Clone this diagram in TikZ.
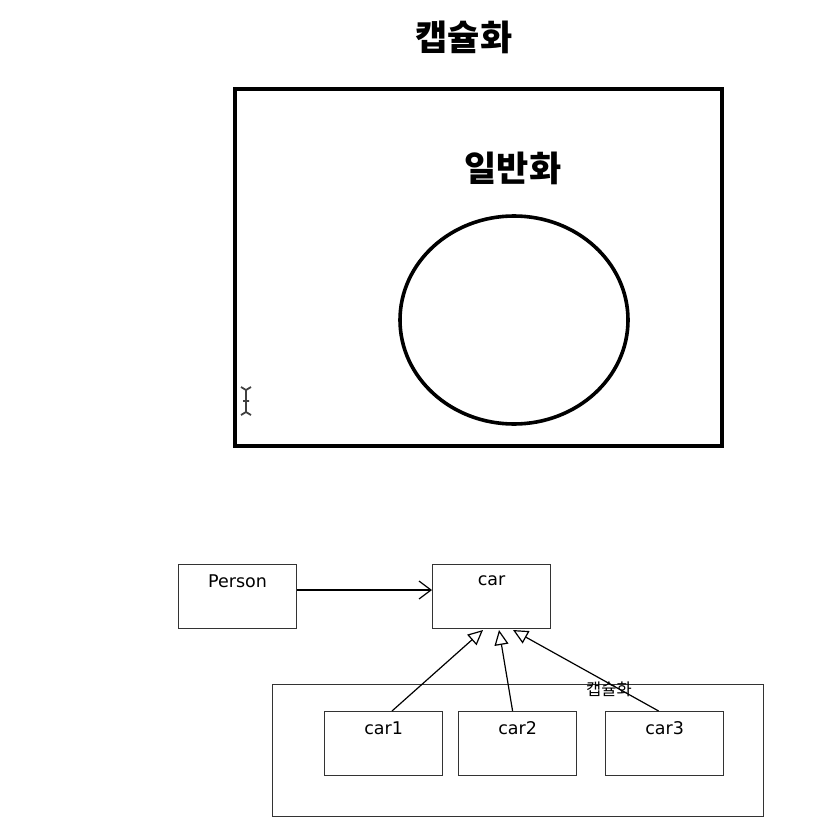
\documentclass[tikz,border=0pt]{standalone}
\usepackage{fontspec}
\setmainfont{DejaVu Sans}
\newfontfamily\kr{Noto Sans CJK KR}
\usetikzlibrary{arrows.meta}
\begin{document}
\begin{tikzpicture}[x=1pt,y=-1pt,
  bigtitle/.style={font=\kr\bfseries\fontsize{35}{38}\selectfont, inner sep=0pt},
  umlbox/.style={draw=black!80, line width=1.2pt, minimum width=118pt, minimum height=64pt, inner sep=0pt},
  boxlabel/.style={font=\fontsize{17.5}{20}\selectfont, inner sep=0pt},
  inh/.style={-{Triangle[open, length=15pt, width=14pt]}, line width=1.2pt},
]
\useasboundingbox (0,0) rectangle (820,834);
% top part
\node[bigtitle] (title) at (464,37) {캡슐화};
\draw[line width=3.8pt] (235,89) rectangle (722,446);
\node[bigtitle] (gen) at (513,168) {일반화};
\draw[line width=3.6pt] (514,320) ellipse [x radius=114, y radius=104];
% I-beam cursor
\draw[line width=1.8pt, black!75] (246,389) -- (246,413)
  (241,387) -- (246,390) -- (251,387)
  (241,415) -- (246,412) -- (251,415)
  (243,401) -- (249,401);
% bottom diagram
\node[umlbox, anchor=north west] (person) at (178,564) {};
\node[boxlabel] at ([yshift=-17pt]person.north) {Person};
\node[umlbox, anchor=north west] (car) at (432,564) {};
\node[boxlabel] at ([yshift=-17pt]car.north) {car};
\draw[line width=1.2pt, -{Straight Barb[length=12pt, width=18pt]}] ([yshift=-26pt]person.north east) -- ([yshift=-26pt]car.north west);
\node[draw=black!80, line width=1.2pt, anchor=north west, minimum width=491pt, minimum height=132pt, inner sep=0pt] (grp) at (272,684) {};
\node[font=\kr\fontsize{16.5}{18}\selectfont, inner sep=0pt] (grplabel) at (609,689) {캡슐화};
\node[umlbox, anchor=north west] (car1) at (324,711) {};
\node[boxlabel] at ([yshift=-17pt]car1.north) {car1};
\node[umlbox, anchor=north west] (car2) at (458,711) {};
\node[boxlabel] at ([yshift=-17pt]car2.north) {car2};
\node[umlbox, anchor=north west] (car3) at (605,711) {};
\node[boxlabel] at ([yshift=-17pt]car3.north) {car3};
\coordinate (t1) at (483,630);
\coordinate (t2) at (499,630);
\coordinate (t3) at (513,630);
\coordinate (s1) at (392,711);
\draw[inh] (s1) -- (t1);
\draw[inh] ([xshift=-5pt]car2.north) -- (t2);
\draw[inh] ([xshift=-6pt]car3.north) -- (t3);
\end{tikzpicture}
\end{document}
